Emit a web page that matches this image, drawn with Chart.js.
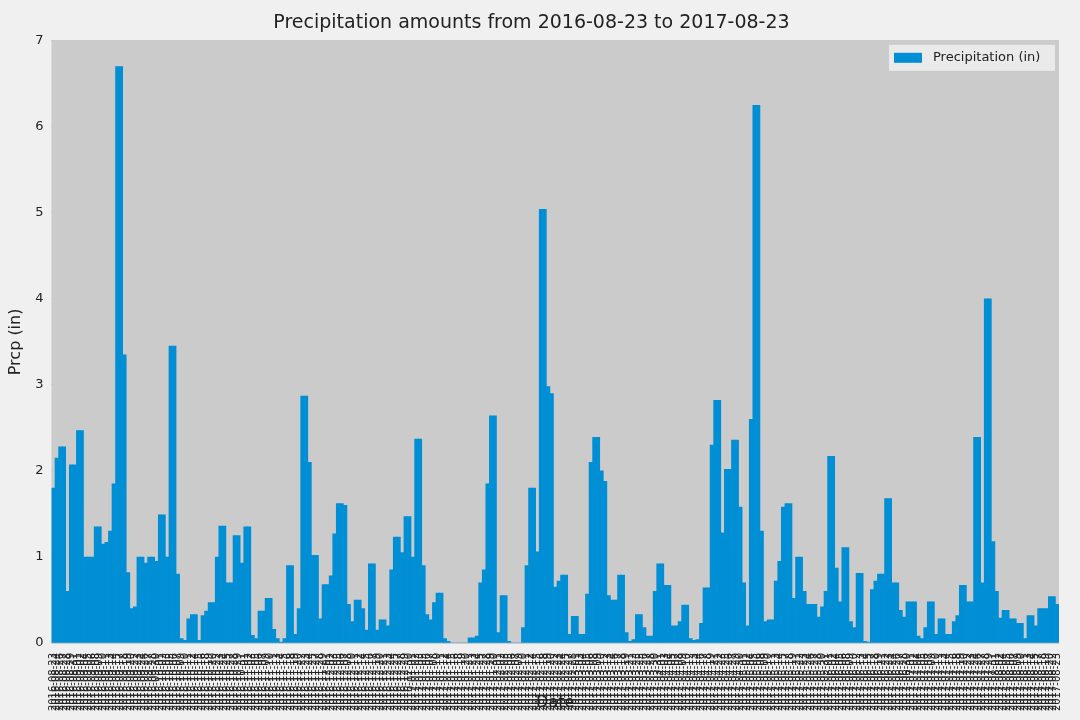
<!DOCTYPE html>
<html>
<head>
<meta charset="utf-8">
<script src="https://cdn.jsdelivr.net/npm/chart.js@4"></script>
<style>
  html, body { margin: 0; padding: 0; background: #f0f0f0; }
  #wrap { width: 1080px; height: 720px; }
</style>
</head>
<body>
<div id="wrap"><canvas id="chart"></canvas></div>
<script>
const startDate = '2016-08-23';
const endDate = '2017-08-23';
const prcp = [
  1.8, 2.15, 2.28, 2.28, 0.6, 2.07, 2.07, 2.47, 2.47, 1.0, 1.0, 1.0, 1.35, 1.35, 1.15, 1.17, 1.3, 1.85,
  6.7, 6.7, 3.35, 0.82, 0.4, 0.42, 1.0, 1.0, 0.93, 1.0, 1.0, 0.95, 1.49, 1.49, 1.0, 3.45, 3.45, 0.8,
  0.05, 0.03, 0.28, 0.33, 0.33, 0.03, 0.32, 0.37, 0.47, 0.47, 1.0, 1.36, 1.36, 0.7, 0.7, 1.25, 1.25,
  0.93, 1.35, 1.35, 0.09, 0.05, 0.37, 0.37, 0.52, 0.52, 0.16, 0.05, 0.01, 0.05, 0.9, 0.9, 0.1, 0.4,
  2.87, 2.87, 2.1, 1.02, 1.02, 0.28, 0.68, 0.68, 0.78, 1.27, 1.62, 1.62, 1.6, 0.45, 0.25, 0.5, 0.5,
  0.4, 0.15, 0.92, 0.92, 0.15, 0.27, 0.27, 0.2, 0.85, 1.23, 1.23, 1.05, 1.47, 1.47, 1.0, 2.37, 2.37,
  0.9, 0.33, 0.27, 0.47, 0.58, 0.58, 0.05, 0.02, 0, 0, 0, 0, 0, 0.06, 0.06, 0.08, 0.7, 0.85, 1.85,
  2.64, 2.64, 0.12, 0.55, 0.55, 0.02, 0, 0, 0, 0.18, 0.9, 1.8, 1.8, 1.06, 5.04, 5.04, 2.98, 2.9,
  0.65, 0.72, 0.79, 0.79, 0.1, 0.31, 0.31, 0.1, 0.1, 0.57, 2.1, 2.39, 2.39, 2.0, 1.88, 0.55, 0.5,
  0.5, 0.79, 0.79, 0.12, 0.02, 0.04, 0.33, 0.33, 0.18, 0.08, 0.08, 0.6, 0.92, 0.92, 0.67, 0.67, 0.2,
  0.2, 0.25, 0.44, 0.44, 0.05, 0.03, 0.04, 0.23, 0.64, 0.64, 2.3, 2.82, 2.82, 1.28, 2.02, 2.02, 2.36,
  2.36, 1.58, 0.7, 0.2, 2.6, 6.25, 6.25, 1.3, 0.25, 0.27, 0.27, 0.72, 0.95, 1.58, 1.62, 1.62, 0.52,
  1.0, 1.0, 0.6, 0.45, 0.45, 0.45, 0.3, 0.42, 0.6, 2.17, 2.17, 0.87, 0.48, 1.11, 1.11, 0.25, 0.18,
  0.81, 0.81, 0.02, 0.01, 0.62, 0.72, 0.8, 0.8, 1.68, 1.68, 0.7, 0.7, 0.38, 0.3, 0.48, 0.48, 0.48,
  0.08, 0.05, 0.18, 0.48, 0.48, 0.1, 0.28, 0.28, 0.1, 0.1, 0.25, 0.32, 0.67, 0.67, 0.48, 0.48, 2.39,
  2.39, 0.7, 4.0, 4.0, 1.18, 0.6, 0.29, 0.38, 0.38, 0.28, 0.28, 0.23, 0.23, 0.05, 0.32, 0.32, 0.2,
  0.4, 0.4, 0.4, 0.54, 0.54, 0.45
];
const yTicks = [0, 1, 2, 3, 4, 5, 6, 7];

// date labels spread over the year
const dates = [];
const t0 = new Date(startDate + 'T00:00:00Z').getTime();
const t1 = new Date(endDate + 'T00:00:00Z').getTime();
for (let i = 0; i < prcp.length; i++) {
  const t = t0 + Math.round((t1 - t0) / 86400000 * i / (prcp.length - 1)) * 86400000;
  dates.push(new Date(t).toISOString().slice(0, 10));
}

const bgPlugin = {
  id: 'bg',
  beforeDraw(chart) {
    const { ctx, chartArea: a } = chart;
    ctx.save();
    ctx.fillStyle = '#cbcbcb';
    ctx.fillRect(a.left, a.top, a.right - a.left, a.bottom - a.top);
    ctx.restore();
  },
  afterDraw(chart) {
    const { ctx, chartArea: a } = chart;
    const x = a.right - 170, y = a.top + 4;
    ctx.save();
    ctx.fillStyle = 'rgba(240,240,240,0.85)';
    ctx.strokeStyle = '#e0e0e0';
    ctx.fillRect(x, y, 166, 26);
    ctx.fillStyle = '#008fd5';
    ctx.fillRect(x + 5, y + 8, 28, 10);
    ctx.fillStyle = '#222';
    ctx.font = '13px "DejaVu Sans"';
    ctx.textBaseline = 'middle';
    ctx.fillText('Precipitation (in)', x + 44, y + 13);
    ctx.restore();
  }
};

new Chart(document.getElementById('chart'), {
  type: 'bar',
  data: {
    labels: dates,
    datasets: [{
      label: 'Precipitation (in)',
      data: prcp,
      backgroundColor: '#008fd5',
      borderWidth: 0,
      categoryPercentage: 1.0,
      barPercentage: 1.0
    }]
  },
  options: {
    responsive: true,
    maintainAspectRatio: false,
    animation: false,
    layout: { padding: { left: 4, right: 21, top: 0, bottom: 8 } },
    scales: {
      x: {
        grid: { display: false },
        border: { display: false },
        ticks: {
          autoSkip: false, maxRotation: 90, minRotation: 90,
          color: '#222', font: { family: 'DejaVu Sans', size: 10 }, padding: 2
        },
        title: { display: true, text: 'Date', color: '#222', font: { family: 'DejaVu Sans', size: 16 }, padding: 0 },
        afterFit(scale) { scale.height = 69; }
      },
      y: {
        min: 0, max: 7,
        afterBuildTicks(scale) { scale.ticks = yTicks.map(v => ({ value: v })); },
        grid: { color: '#cbcbcb', drawTicks: false },
        border: { display: false },
        ticks: { color: '#222', font: { family: 'DejaVu Sans', size: 13 }, padding: 8 },
        title: { display: true, text: 'Prcp (in)', color: '#222', font: { family: 'DejaVu Sans', size: 16 }, padding: 2 }
      }
    },
    plugins: {
      legend: { display: false },
      tooltip: { enabled: false },
      title: {
        display: true,
        text: 'Precipitation amounts from ' + startDate + ' to ' + endDate,
        color: '#222',
        font: { family: 'DejaVu Sans', size: 19, weight: 'normal' },
        padding: { top: 12, bottom: 6 }
      }
    }
  },
  plugins: [bgPlugin]
});
</script>
</body>
</html>
